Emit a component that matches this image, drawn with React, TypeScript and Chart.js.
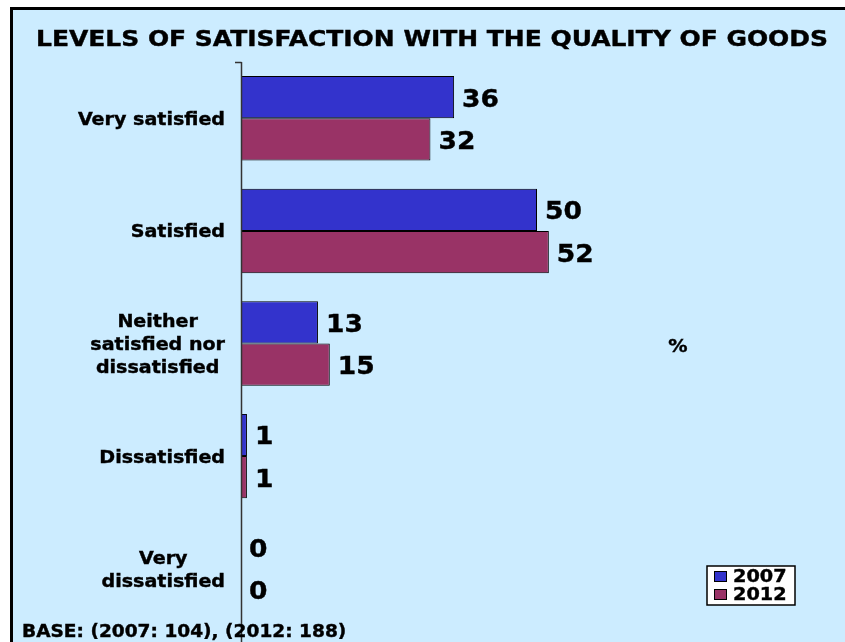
import React, { useEffect, useRef } from 'react';
import { Chart, registerables } from 'chart.js';

Chart.register(...registerables);

const categories: string[][] = [
  ['Very satisfied'],
  ['Satisfied'],
  ['Neither', 'satisfied nor', 'dissatisfied'],
  ['Dissatisfied'],
  ['Very', 'dissatisfied'],
];
const series2007 = [36, 50, 13, 1, 0];
const series2012 = [32, 52, 15, 1, 0];
const seriesNames = ['2007', '2012'];
const seriesColors = ['#3333CC', '#993366'];
const titleText = 'LEVELS OF SATISFACTION WITH THE QUALITY OF GOODS';
const baseText = 'BASE: (2007: 104), (2012: 188)';
const unitText = '%';
const xMin = 0;
const xMax = 100;

const FONT = '"DejaVu Sans", Verdana, sans-serif';
const BG = '#CCECFF';

// draw text with a horizontal stretch factor (to mimic the wider original face)
function drawText(
  ctx: CanvasRenderingContext2D,
  text: string,
  x: number,
  y: number,
  size: number,
  sx: number,
  align: 'left' | 'center' | 'right'
) {
  ctx.save();
  ctx.font = `bold ${size}px ${FONT}`;
  ctx.textBaseline = 'middle';
  ctx.textAlign = align;
  ctx.fillStyle = '#000000';
  ctx.strokeStyle = '#000000';
  ctx.lineWidth = 0.4;
  ctx.translate(x, y);
  ctx.scale(sx, 1);
  ctx.fillText(text, 0, 0);
  ctx.strokeText(text, 0, 0);
  ctx.restore();
}

function textWidth(ctx: CanvasRenderingContext2D, text: string, size: number, sx: number) {
  ctx.save();
  ctx.font = `bold ${size}px ${FONT}`;
  const w = ctx.measureText(text).width * sx;
  ctx.restore();
  return w;
}

const decorPlugin = {
  id: 'decor',
  beforeDraw(chart: any) {
    const ctx = chart.ctx;
    const W = chart.width;
    const H = chart.height;
    ctx.save();
    ctx.fillStyle = '#FFFFFF';
    ctx.fillRect(0, 0, W, H);
    ctx.fillStyle = BG;
    ctx.fillRect(13, 10, W - 13, H - 10);
    ctx.fillStyle = '#000000';
    ctx.fillRect(10, 7, 3, H - 7);
    ctx.fillRect(10, 7, W - 10, 3);
    ctx.restore();
  },
  afterDatasetsDraw(chart: any) {
    const ctx = chart.ctx;
    const area = chart.chartArea;
    const yScale = chart.scales.y;
    ctx.save();
    // axis line and top tick
    ctx.strokeStyle = '#333333';
    ctx.lineWidth = 1.5;
    ctx.beginPath();
    ctx.moveTo(area.left + 0.5, area.top);
    ctx.lineTo(area.left + 0.5, chart.height);
    ctx.moveTo(area.left - 6, area.top + 0.5);
    ctx.lineTo(area.left + 0.5, area.top + 0.5);
    ctx.stroke();

    // title, stretched to original width
    const tSize = 22;
    const tW = textWidth(ctx, titleText, tSize, 1);
    drawText(ctx, titleText, 432, 40, tSize, 792 / tW, 'center');

    // category labels
    const lSize = 17.5;
    const lSx = 1.09;
    categories.forEach((lines, i) => {
      const yc = yScale.getPixelForTick(i);
      const maxW = Math.max(...lines.map((l) => textWidth(ctx, l, lSize, lSx)));
      const cx = area.left - 16 - maxW / 2;
      const lh = 23;
      const y0 = yc - ((lines.length - 1) * lh) / 2 + 2;
      lines.forEach((l, j) => {
        drawText(ctx, l, cx, y0 + j * lh, lSize, lSx, 'center');
      });
    });

    // data labels
    chart.data.datasets.forEach((ds: any, di: number) => {
      const meta = chart.getDatasetMeta(di);
      meta.data.forEach((bar: any, i: number) => {
        const v = ds.data[i];
        drawText(ctx, String(v), bar.x + 8, bar.y + 3, 25, 1.06, 'left');
      });
    });

    // unit
    drawText(ctx, unitText, 678, 347, 17.5, 1.1, 'center');

    // base note
    drawText(ctx, baseText, 22, 632, 17.5, 1.06, 'left');

    // legend
    const lx = 707, ly = 566, lw = 88, lh2 = 39;
    ctx.fillStyle = '#FFFFFF';
    ctx.fillRect(lx, ly, lw, lh2);
    ctx.strokeStyle = '#000000';
    ctx.lineWidth = 1.5;
    ctx.strokeRect(lx, ly, lw, lh2);
    seriesNames.forEach((name, i) => {
      const yy = ly + 10 + i * 18;
      ctx.fillStyle = seriesColors[i];
      ctx.fillRect(714, yy - 5, 13, 11);
      ctx.strokeStyle = '#000000';
      ctx.lineWidth = 1;
      ctx.strokeRect(714.5, yy - 4.5, 12, 10);
      drawText(ctx, name, 733, yy + 1, 17.5, 1.1, 'left');
    });
    ctx.restore();
  },
};

export default function App() {
  const canvasRef = useRef<HTMLCanvasElement | null>(null);

  useEffect(() => {
    document.body.style.margin = '0';
    const canvas = canvasRef.current;
    if (!canvas) return;
    const chart = new Chart(canvas, {
      type: 'bar',
      data: {
        labels: categories.map((c) => c.join(' ')),
        datasets: [
          {
            label: seriesNames[0],
            data: series2007,
            backgroundColor: seriesColors[0],
            borderColor: '#000000',
            borderWidth: 1,
            borderSkipped: 'start',
            categoryPercentage: 0.75,
            barPercentage: 1.0,
          },
          {
            label: seriesNames[1],
            data: series2012,
            backgroundColor: seriesColors[1],
            borderColor: '#000000',
            borderWidth: 1,
            borderSkipped: 'start',
            categoryPercentage: 0.75,
            barPercentage: 1.0,
          },
        ],
      },
      options: {
        indexAxis: 'y',
        responsive: false,
        animation: false,
        layout: { padding: { top: 62, bottom: 17, right: 12, left: 0 } },
        plugins: {
          legend: { display: false },
          title: { display: false },
          tooltip: { enabled: false },
        },
        scales: {
          x: { display: false, min: xMin, max: xMax },
          y: {
            display: true,
            grid: { display: false, drawTicks: false },
            border: { display: false },
            ticks: { display: false },
            afterFit: (scale: any) => {
              scale.width = 241;
            },
          },
        },
      },
      plugins: [decorPlugin],
    });
    return () => chart.destroy();
  }, []);

  return (
    <div style={{ width: 845, height: 642 }}>
      <canvas ref={canvasRef} width={845} height={642} style={{ display: 'block' }} />
    </div>
  );
}
